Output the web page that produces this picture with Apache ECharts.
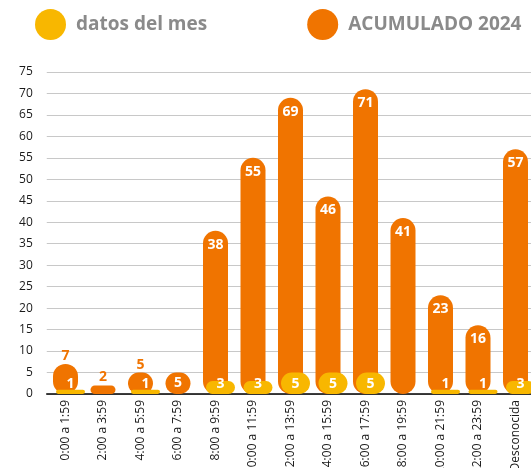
<!DOCTYPE html>
<html>
<head>
<meta charset="utf-8">
<script src="https://cdn.jsdelivr.net/npm/echarts@6/dist/echarts.min.js"></script>
<style>
html, body { margin: 0; padding: 0; background: #fff; }
#main { width: 531px; height: 468px; }
</style>
</head>
<body>
<div id="main"></div>
<script>
var categories = ['0:00 a 1:59', '2:00 a 3:59', '4:00 a 5:59', '6:00 a 7:59', '8:00 a 9:59', '10:00 a 11:59',
  '12:00 a 13:59', '14:00 a 15:59', '16:00 a 17:59', '18:00 a 19:59', '20:00 a 21:59', '22:00 a 23:59', 'Desconocida'];
var acumulado = [7, 2, 5, 5, 38, 55, 69, 46, 71, 41, 23, 16, 57];
var mes = [1, 0, 1, 0, 3, 3, 5, 5, 5, 0, 1, 1, 3];

var naranja = '#F07400';
var amarillo = '#F8B700';

// small bars get the label above, in orange
var acumData = acumulado.map(function (v, i) {
  if (i < 3) {
    return { value: v, label: { position: 'top', distance: 1, color: naranja } };
  }
  if (i === 3) {
    return { value: v, label: { position: 'inside' } };
  }
  return v;
});

var myChart = echarts.init(document.getElementById('main'));
var option = {
  animation: false,
  legend: {
    left: 30,
    top: 4,
    itemWidth: 31,
    itemHeight: 31,
    itemGap: 100,
    icon: 'circle',
    selectedMode: false,
    textStyle: {
      fontFamily: 'Open Sans',
      fontWeight: 'bold',
      fontSize: 19,
      color: '#8a8a8a',
      padding: [0, 0, 0, 5]
    },
    data: ['datos del mes', 'ACUMULADO 2024']
  },
  grid: [
    { left: 46.75, right: -3.25, top: 72, bottom: 74, outerBoundsMode: 'none', containLabel: false },
    { left: 51.75, right: -8.25, top: 72, bottom: 74, outerBoundsMode: 'none', containLabel: false }
  ],
  xAxis: [
    {
      type: 'category',
      gridIndex: 0,
      data: categories,
      axisLine: { lineStyle: { color: '#000', width: 1.5 } },
      axisTick: { show: false },
      axisLabel: {
        rotate: 90,
        interval: 0,
        margin: 6,
        fontSize: 12,
        fontFamily: 'Open Sans',
        color: '#1a1a1a'
      }
    },
    {
      type: 'category',
      gridIndex: 1,
      data: categories,
      show: false
    }
  ],
  yAxis: [
    {
      type: 'value',
      gridIndex: 0,
      min: 0,
      max: 75,
      interval: 5,
      axisLine: { show: false },
      axisTick: { show: false },
      axisLabel: { margin: 14, fontSize: 12, fontFamily: 'Open Sans', color: '#1a1a1a' },
      splitLine: { lineStyle: { color: '#c8c8c8', width: 1 } }
    },
    {
      type: 'value',
      gridIndex: 1,
      min: 0,
      max: 75,
      interval: 5,
      show: false,
      splitLine: { show: false }
    }
  ],
  series: [
    {
      name: 'ACUMULADO 2024',
      type: 'bar',
      xAxisIndex: 0,
      yAxisIndex: 0,
      barWidth: 25,
      itemStyle: { color: naranja, borderRadius: 12.5 },
      label: {
        show: true,
        position: 'insideTop',
        distance: 7,
        color: '#fff',
        fontFamily: 'Open Sans',
        fontWeight: 'bold',
        fontSize: 14
      },
      data: acumData
    },
    {
      name: 'datos del mes',
      type: 'bar',
      xAxisIndex: 1,
      yAxisIndex: 1,
      barWidth: 29,
      itemStyle: { color: amarillo, borderRadius: 14.5 },
      label: {
        show: true,
        position: 'insideBottom',
        distance: 3,
        color: '#fff',
        fontFamily: 'Open Sans',
        fontWeight: 'bold',
        fontSize: 14,
        formatter: function (p) { return p.value ? p.value : ''; }
      },
      data: mes
    }
  ]
};
myChart.setOption(option);

window.onresize = function () {
  myChart.resize();
};
</script>
</body>
</html>
